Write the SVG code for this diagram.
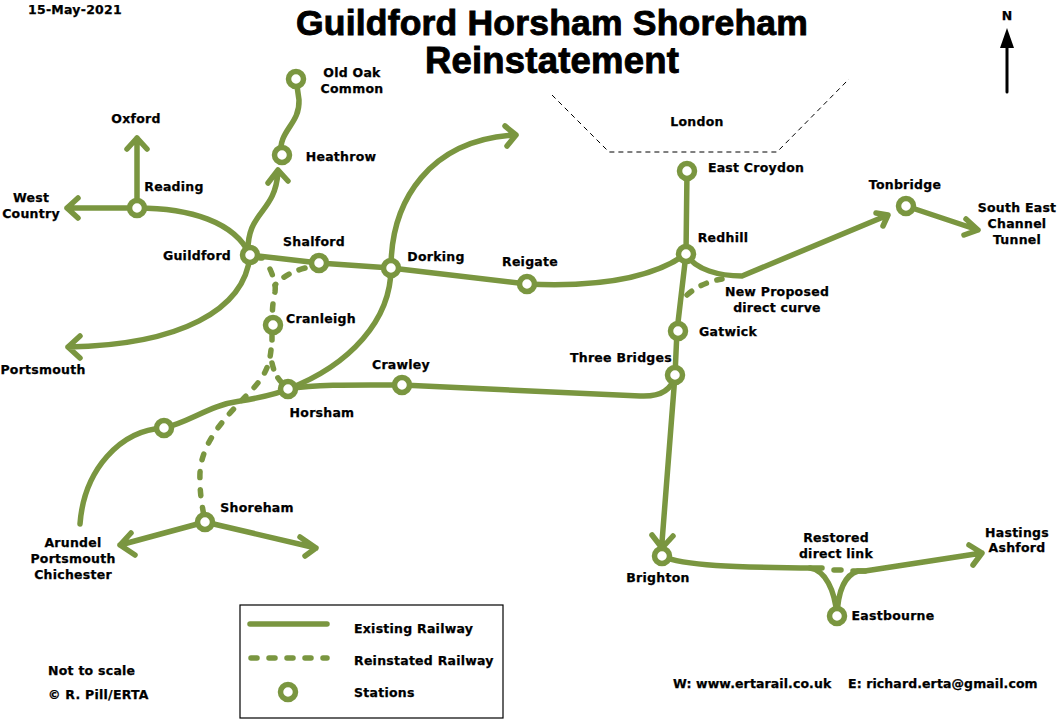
<svg xmlns="http://www.w3.org/2000/svg" width="1057" height="719" viewBox="0 0 1057 719">
<style>
.l{fill:none;stroke:#7a9640;stroke-width:5.5;stroke-linecap:round;stroke-linejoin:round}
.d{fill:none;stroke:#7a9640;stroke-width:5.5;stroke-linecap:round;stroke-dasharray:6 12}
.s{fill:#fff;stroke:#7a9640;stroke-width:5.5}
text{font-family:"DejaVu Sans",sans-serif;font-weight:700;font-size:12.5px;letter-spacing:.25px;fill:#000;stroke:#000;stroke-width:.25;text-anchor:middle}
.t{font-family:"Liberation Sans",Arial,sans-serif;font-size:35.5px;letter-spacing:.2px;stroke-width:.9}
.k{text-anchor:start}
.w{letter-spacing:.1px}
</style>
<rect width="1057" height="719" fill="#fff"/>
<g id="connectors">
<path class="l" d="M137 208V138M127 149L137 138L147 149"/>
<path class="l" d="M137 208C190 208 235 222 250 255C245 310 180 345 68 347M80 336L68 347L80 358"/>
<path class="l" d="M137 208H67M78 198L67 208L78 218"/>
<path class="l" d="M248 255C246 210 275 215 278 172M268 183L278 170L288 181"/>
<path class="l" d="M281 155C278 130 300 125 299 100L296 79"/>
<path class="l" d="M250 255L319 263L391 268L527 284C590 287 650 280 686 254C695 270 720 276 742 276L888 215M876 213L888 215L883 226"/>
<path class="l" d="M288 389C350 365 391 320 391 268C391 200 430 140 515 135M505 126L516 135L507 146"/>
<path class="l" d="M80 524C84 470 120 430 164 428C190 422 210 405 240 401C258 398 275 395 288 389C320 384 360 385 402 385L640 396C660 397 672 390 675 375"/>
<path class="l" d="M687 171L686 254L677 331L675 375L661 555M652 535L662 548L673 536"/>
<path class="l" d="M906 206L978 230M966 219L978 230L964 235"/>
<path class="l" d="M205 522L120 545M131 533L120 545L135 555"/>
<path class="l" d="M205 522L316 548M300 537L316 548L305 556"/>
<path class="l" d="M661 556C690 568 760 567 810 568C825 570 835 590 837 616C838 590 845 575 858 571H865L982 553M969 545L982 553L973 565"/>
<path class="l" d="M810 568H822M853 571H865"/>
<path class="l" d="M260 258H262"/>
<path class="d" d="M270 269C274 278 276 285 275 292C272 305 272 315 273 325"/>
<path class="d" d="M305 268C290 272 283 277 275 285" style="stroke-dasharray:6 11"/>
<path class="l" d="M272 336V340"/>
<path class="d" d="M271 350C269 370 262 380 245 397C225 418 198 445 200 480C200 495 202 505 205 522"/>
<path class="d" d="M272 363C274 372 277 378 283 384" style="stroke-dasharray:6 10"/>
<path class="d" d="M687 295C695 288 705 282 722 279" style="stroke-dasharray:6 11"/>
<path class="l" d="M834 570H841"/>
</g>
<path d="M552 95L609 152H777L849 79" fill="none" stroke="#000" stroke-width="1" stroke-dasharray="5 4"/>
<g id="oldoak"><circle class="s" cx="296" cy="79" r="7.5"/><text x="352" y="77">Old Oak</text><text x="352" y="93">Common</text></g>
<g id="heathrow"><circle class="s" cx="282" cy="155" r="7.5"/><text x="341" y="161">Heathrow</text></g>
<g id="oxford"><text x="136" y="123">Oxford</text></g>
<g id="reading"><circle class="s" cx="137" cy="208" r="7.5"/><text x="174" y="191">Reading</text></g>
<g id="westcountry"><text x="31" y="202">West</text><text x="31" y="218">Country</text></g>
<g id="guildford"><circle class="s" cx="250" cy="255" r="7.5"/><text x="197" y="260">Guildford</text></g>
<g id="shalford"><circle class="s" cx="319" cy="263" r="7.5"/><text x="314" y="246">Shalford</text></g>
<g id="dorking"><circle class="s" cx="391" cy="268" r="7.5"/><text x="436" y="261">Dorking</text></g>
<g id="reigate"><circle class="s" cx="527" cy="284" r="7.5"/><text x="530" y="266">Reigate</text></g>
<g id="redhill"><circle class="s" cx="686" cy="254" r="7.5"/><text x="723" y="242">Redhill</text></g>
<g id="eastcroydon"><circle class="s" cx="687" cy="171" r="7.5"/><text x="756" y="172">East Croydon</text></g>
<g id="gatwick"><circle class="s" cx="678" cy="331" r="7.5"/><text x="728" y="336">Gatwick</text></g>
<g id="threebridges"><circle class="s" cx="675" cy="375" r="7.5"/><text x="621" y="362">Three Bridges</text></g>
<g id="tonbridge"><circle class="s" cx="906" cy="206" r="7.5"/><text x="905" y="189">Tonbridge</text></g>
<g id="channel"><text x="1017" y="212">South East</text><text x="1017" y="228">Channel</text><text x="1017" y="244">Tunnel</text></g>
<g id="cranleigh"><circle class="s" cx="273" cy="325" r="7.5"/><text x="321" y="323">Cranleigh</text></g>
<g id="horsham"><circle class="s" cx="288" cy="389" r="7.5"/><text x="322" y="417">Horsham</text></g>
<g id="crawley"><circle class="s" cx="402" cy="385" r="7.5"/><text x="401" y="369">Crawley</text></g>
<g id="unnamed"><circle class="s" cx="164" cy="428" r="7.5"/></g>
<g id="shoreham"><circle class="s" cx="205" cy="522" r="7.5"/><text x="257" y="512">Shoreham</text></g>
<g id="arundel"><text x="73" y="547">Arundel</text><text x="73" y="563">Portsmouth</text><text x="73" y="579">Chichester</text></g>
<g id="portsmouth"><text x="43" y="374">Portsmouth</text></g>
<g id="brighton"><circle class="s" cx="662" cy="556" r="7.5"/><text x="658" y="582">Brighton</text></g>
<g id="eastbourne"><circle class="s" cx="837" cy="616" r="7.5"/><text x="893" y="620">Eastbourne</text></g>
<g id="hastings"><text x="1017" y="537">Hastings</text><text x="1017" y="552">Ashford</text></g>
<text x="836" y="542">Restored</text><text x="836" y="558">direct link</text>
<text x="777" y="296">New Proposed</text><text x="777" y="312">direct curve</text>
<text x="697" y="126">London</text>
<text class="k" x="28" y="14">15-May-2021</text>
<text class="t" x="552" y="35">Guildford Horsham Shoreham</text>
<text class="t" x="552" y="73" style="font-size:36.5px">Reinstatement</text>
<g id="north"><text x="1007" y="20">N</text><path d="M1007 92V46" stroke="#000" stroke-width="3" stroke-linecap="round"/><path d="M1007 28L1014 48H1000Z"/></g>
<g id="legend">
<rect x="240" y="605" width="263" height="113" fill="none" stroke="#000" stroke-width="1.2"/>
<path class="l" d="M250 624H327"/>
<path class="d" d="M251 658H327"/>
<circle class="s" cx="288" cy="692" r="7.5"/>
<text class="k" x="354" y="633">Existing Railway</text>
<text class="k" x="354" y="665">Reinstated Railway</text>
<text class="k" x="354" y="697">Stations</text>
</g>
<text class="k" x="48" y="675">Not to scale</text>
<text class="k" x="48" y="699">© R. Pill/ERTA</text>
<text class="k w" x="673" y="688">W: www.ertarail.co.uk</text>
<text class="k w" x="848" y="688">E: richard.erta@gmail.com</text>
</svg>
